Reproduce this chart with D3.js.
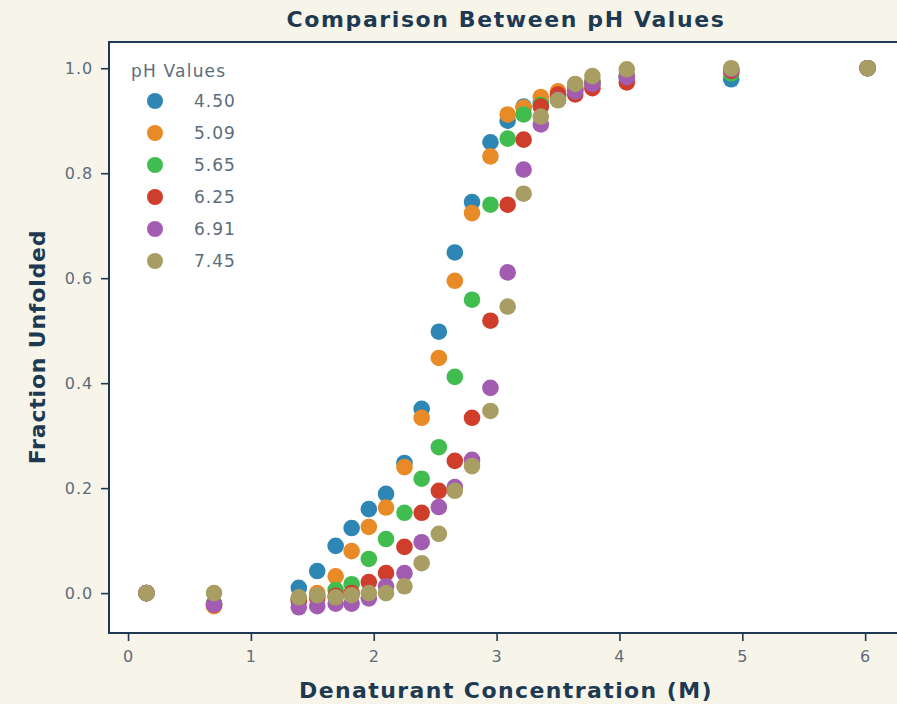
<!DOCTYPE html>
<html>
<head>
<meta charset="utf-8">
<script src="https://cdn.jsdelivr.net/npm/d3@7"></script>
<style>
  body { margin: 0; background: #f7f5ea; }
  .main { width: 897px; height: 704px; overflow: hidden; }
</style>
</head>
<body>
<div class="main"></div>
<script>
// denaturant concentrations (M)
var conc = [0.15, 0.70, 1.39, 1.54, 1.69, 1.82, 1.96, 2.10, 2.25, 2.39, 2.53, 2.66, 2.80, 2.95, 3.09, 3.22, 3.36, 3.50, 3.64, 3.78, 4.06, 4.91, 6.02];

var phLabels = ["4.50", "5.09", "5.65", "6.25", "6.91", "7.45"];
var phColors = ["#2e86b4", "#e88a26", "#41bc4f", "#cf3d2b", "#a25db3", "#a89d62"];

var ph450 = [0, -0.020, 0.010, 0.042, 0.090, 0.124, 0.160, 0.189, 0.248, 0.351, 0.498, 0.649, 0.745, 0.859, 0.900, 0.927, 0.935, 0.950, 0.960, 0.975, 0.985, 0.979, 1.0];
var ph509 = [0, -0.025, -0.010, 0.000, 0.032, 0.080, 0.126, 0.163, 0.240, 0.334, 0.448, 0.595, 0.724, 0.832, 0.912, 0.925, 0.945, 0.956, 0.965, 0.975, 0.985, 0.995, 1.0];
var ph565 = [0, -0.020, -0.012, -0.006, 0.006, 0.017, 0.065, 0.103, 0.153, 0.218, 0.278, 0.412, 0.559, 0.740, 0.866, 0.912, 0.930, 0.945, 0.960, 0.970, 0.980, 0.990, 1.0];
var ph625 = [0, -0.022, -0.015, -0.010, -0.005, 0.000, 0.021, 0.038, 0.088, 0.153, 0.195, 0.252, 0.334, 0.519, 0.740, 0.864, 0.927, 0.950, 0.950, 0.962, 0.973, 0.995, 1.0];
var ph691 = [0, -0.022, -0.027, -0.025, -0.020, -0.020, -0.010, 0.013, 0.038, 0.097, 0.164, 0.202, 0.254, 0.391, 0.611, 0.807, 0.893, 0.940, 0.956, 0.970, 0.983, 0.998, 1.0];
var ph745 = [0, 0.000, -0.008, -0.004, -0.008, -0.004, 0.000, 0.000, 0.013, 0.057, 0.113, 0.195, 0.242, 0.347, 0.546, 0.761, 0.908, 0.939, 0.970, 0.985, 0.998, 1.0, 1.0];

var series = [ph450, ph509, ph565, ph625, ph691, ph745];

var xTicks = [0, 1, 2, 3, 4, 5, 6];
var yTicks = [0.0, 0.2, 0.4, 0.6, 0.8, 1.0];

var width = 897;
var height = 704;
var font = "'DejaVu Sans', sans-serif";
var navy = "#1d3a52";
var grey = "#5d6c79";

var svg = d3.select(".main")
    .append("svg")
        .attr("width", width)
        .attr("height", height)
        .style("font-family", font);

svg.append("rect")
    .attr("width", width)
    .attr("height", height)
    .attr("fill", "#f7f5ea");

var xScale = d3.scaleLinear()
    .domain([-0.155, 6.3])
    .range([109, 902]);

var yScale = d3.scaleLinear()
    .domain([-0.076, 1.05])
    .range([633, 42]);

// plot area
svg.append("rect")
    .attr("x", xScale(-0.155))
    .attr("y", yScale(1.05))
    .attr("width", xScale(6.3) - xScale(-0.155))
    .attr("height", yScale(-0.076) - yScale(1.05))
    .attr("fill", "white")
    .attr("stroke", navy)
    .attr("stroke-width", 2);

var xAxis = d3.axisBottom(xScale)
    .tickValues(xTicks)
    .tickFormat(d3.format("d"))
    .tickSize(7)
    .tickSizeOuter(0);

var yAxis = d3.axisLeft(yScale)
    .tickValues(yTicks)
    .tickFormat(d3.format(".1f"))
    .tickSize(7)
    .tickSizeOuter(0);

var xg = svg.append("g")
    .attr("transform", "translate(0, 634)")
    .call(xAxis);

var yg = svg.append("g")
    .attr("transform", "translate(108, 0)")
    .call(yAxis);

[xg, yg].forEach(function(g) {
    g.select(".domain").remove();
    g.selectAll(".tick line").attr("stroke", navy).attr("stroke-width", 1.6);
    g.selectAll(".tick text")
        .attr("fill", grey)
        .style("font-family", font)
        .style("font-size", "16px")
        .style("letter-spacing", "1px");
});
xg.selectAll(".tick text").attr("dy", "1.15em");
yg.selectAll(".tick text").attr("dx", "-0.3em");

// points
series.forEach(function(vals, s) {
    svg.append("g")
        .selectAll("circle")
        .data(vals)
        .enter()
        .append("circle")
        .attr("cx", (d, i) => xScale(conc[i]))
        .attr("cy", d => yScale(d))
        .attr("r", 8.3)
        .style("fill", phColors[s]);
});

// legend
var legend = svg.append("g");
legend.append("text")
    .attr("x", 131)
    .attr("y", 77)
    .attr("fill", grey)
    .style("font-size", "17px")
    .style("letter-spacing", "1.2px")
    .text("pH Values");

legend.selectAll("circle")
    .data(phLabels)
    .enter()
    .append("circle")
    .attr("cx", 155)
    .attr("cy", (d, i) => 101 + i * 32)
    .attr("r", 8)
    .style("fill", (d, i) => phColors[i]);

legend.selectAll(".lab")
    .data(phLabels)
    .enter()
    .append("text")
    .attr("class", "lab")
    .attr("x", 194)
    .attr("y", (d, i) => 107 + i * 32)
    .attr("fill", grey)
    .style("font-size", "17px")
    .style("letter-spacing", "1px")
    .text(d => d);

// titles
svg.append("text")
    .attr("x", 506)
    .attr("y", 27)
    .attr("text-anchor", "middle")
    .attr("fill", navy)
    .style("font-size", "22px")
    .style("font-weight", "bold")
    .style("letter-spacing", "1.6px")
    .text("Comparison Between pH Values");

svg.append("text")
    .attr("x", 506)
    .attr("y", 698)
    .attr("text-anchor", "middle")
    .attr("fill", navy)
    .style("font-size", "22px")
    .style("font-weight", "bold")
    .style("letter-spacing", "1.4px")
    .text("Denaturant Concentration (M)");

svg.append("text")
    .attr("transform", "translate(45, 347) rotate(-90)")
    .attr("text-anchor", "middle")
    .attr("fill", navy)
    .style("font-size", "22px")
    .style("font-weight", "bold")
    .style("letter-spacing", "0.8px")
    .text("Fraction Unfolded");
</script>
</body>
</html>
